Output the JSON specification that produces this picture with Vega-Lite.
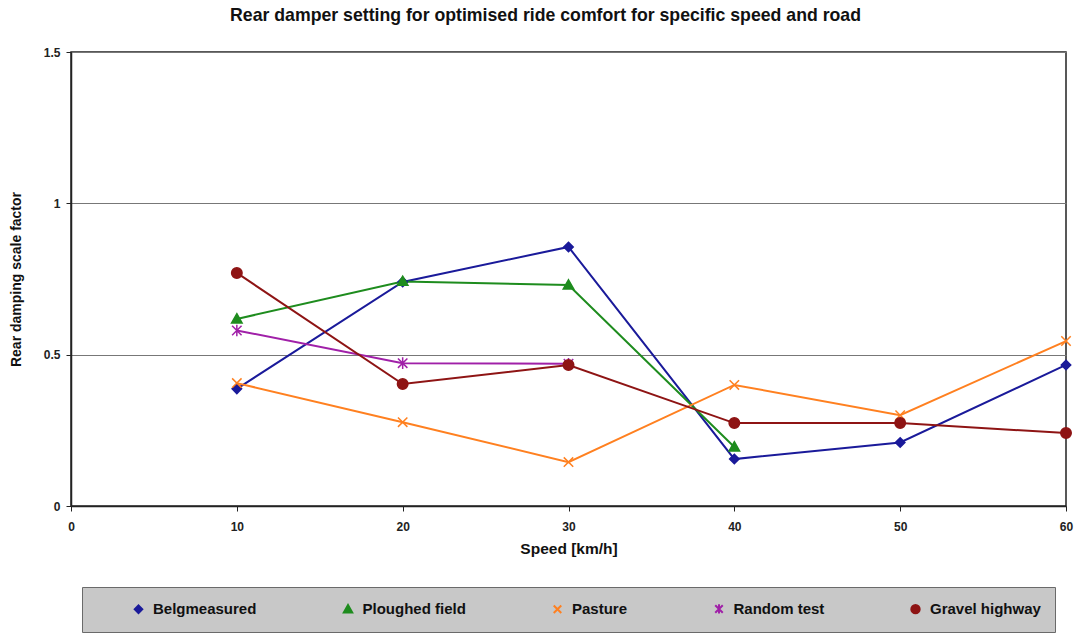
{
  "$schema": "https://vega.github.io/schema/vega-lite/v6.json",
  "width": 995,
  "height": 454,
  "autosize": {"type": "none"},
  "padding": {"left": 71, "top": 52, "right": 10, "bottom": 131},
  "background": "white",
  "title": {
    "text": "Rear damper setting for optimised ride comfort for specific speed and road",
    "font": "Liberation Sans",
    "fontSize": 17.7,
    "fontWeight": "bold",
    "color": "#111",
    "anchor": "middle",
    "dx": -23,
    "offset": 21
  },
  "config": {
    "font": "Liberation Sans",
    "view": {"stroke": "#222", "strokeWidth": 1.5},
    "axis": {
      "labelFont": "Liberation Sans",
      "labelFontWeight": "bold",
      "labelFontSize": 12,
      "labelColor": "#222",
      "titleFont": "Liberation Sans",
      "titleFontWeight": "bold",
      "titleColor": "#111",
      "domainColor": "#222",
      "domainWidth": 1.5,
      "tickColor": "#222",
      "tickSize": 5
    }
  },
  "data": {
    "values": [
      {"series": "Belgmeasured", "speed": 10, "value": 0.387},
      {"series": "Belgmeasured", "speed": 20, "value": 0.74},
      {"series": "Belgmeasured", "speed": 30, "value": 0.856},
      {"series": "Belgmeasured", "speed": 40, "value": 0.155},
      {"series": "Belgmeasured", "speed": 50, "value": 0.21},
      {"series": "Belgmeasured", "speed": 60, "value": 0.466},
      {"series": "Ploughed field", "speed": 10, "value": 0.618},
      {"series": "Ploughed field", "speed": 20, "value": 0.742},
      {"series": "Ploughed field", "speed": 30, "value": 0.73},
      {"series": "Ploughed field", "speed": 40, "value": 0.195},
      {"series": "Pasture", "speed": 10, "value": 0.406},
      {"series": "Pasture", "speed": 20, "value": 0.277},
      {"series": "Pasture", "speed": 30, "value": 0.145},
      {"series": "Pasture", "speed": 40, "value": 0.40},
      {"series": "Pasture", "speed": 50, "value": 0.30},
      {"series": "Pasture", "speed": 60, "value": 0.545},
      {"series": "Random test", "speed": 10, "value": 0.58},
      {"series": "Random test", "speed": 20, "value": 0.472},
      {"series": "Random test", "speed": 30, "value": 0.47},
      {"series": "Gravel highway", "speed": 10, "value": 0.77},
      {"series": "Gravel highway", "speed": 20, "value": 0.403},
      {"series": "Gravel highway", "speed": 30, "value": 0.466},
      {"series": "Gravel highway", "speed": 40, "value": 0.274},
      {"series": "Gravel highway", "speed": 50, "value": 0.274},
      {"series": "Gravel highway", "speed": 60, "value": 0.241}
    ]
  },
  "encoding": {
    "x": {
      "field": "speed",
      "type": "quantitative",
      "scale": {"domain": [0, 60], "nice": false},
      "axis": {
        "title": "Speed [km/h]",
        "titleFontSize": 15.5,
        "titlePadding": 9,
        "values": [0, 10, 20, 30, 40, 50, 60],
        "grid": false,
        "labelPadding": 10,
        "labelFlush": false
      }
    },
    "y": {
      "field": "value",
      "type": "quantitative",
      "scale": {"domain": [0, 1.5], "nice": false},
      "axis": {
        "title": "Rear damping scale factor",
        "titleFontSize": 14,
        "titlePadding": 20,
        "values": [0, 0.5, 1, 1.5],
        "format": "~g",
        "grid": true,
        "gridColor": "#777",
        "gridWidth": 1.2,
        "labelPadding": 6
      }
    },
    "color": {
      "field": "series",
      "type": "nominal",
      "scale": {
        "domain": ["Belgmeasured", "Ploughed field", "Pasture", "Random test", "Gravel highway"],
        "range": ["#1a1a9a", "#1e8c1e", "#ff8020", "#a020a8", "#8e1414"]
      },
      "legend": {
        "orient": "none",
        "legendX": 11,
        "legendY": 535,
        "direction": "horizontal",
        "columns": 5,
        "title": null,
        "fillColor": "#c8c8c8",
        "strokeColor": "#6a6a6a",
        "padding": 14,
        "symbolSize": 70,
        "symbolOffset": 35,
        "symbolStrokeWidth": 2,
        "labelOffset": 7,
        "columnPadding": 48.5,
        "labelFont": "Liberation Sans",
        "labelFontSize": 15,
        "labelFontWeight": "bold",
        "labelColor": "#111",
        "labelLimit": 300
      }
    }
  },
  "layer": [
    {
      "mark": {"type": "line", "strokeWidth": 2},
      "encoding": {
        "detail": {"field": "series"}
      }
    },
    {
      "mark": {"type": "point", "filled": true, "size": 110, "strokeWidth": 1.5, "opacity": 1},
      "encoding": {
        "stroke": {
          "field": "series",
          "type": "nominal",
          "scale": {
            "domain": ["Belgmeasured", "Ploughed field", "Pasture", "Random test", "Gravel highway"],
            "range": ["#1a1a9a", "#1e8c1e", "#ff8020", "#a020a8", "#8e1414"]
          },
          "legend": null
        },
        "shape": {
          "field": "series",
          "type": "nominal",
          "scale": {
            "domain": ["Belgmeasured", "Ploughed field", "Pasture", "Random test", "Gravel highway"],
            "range": [
              "M0,-0.9L0.9,0L0,0.9L-0.9,0Z",
              "M0,-1L1,0.75L-1,0.75Z",
              "M-0.9,-0.9L0.9,0.9M-0.9,0.9L0.9,-0.9",
              "M-0.9,-0.9L0.9,0.9M-0.9,0.9L0.9,-0.9M0,-1.1L0,1.1",
              "circle"
            ]
          },
          "legend": null
        }
      }
    }
  ]
}
